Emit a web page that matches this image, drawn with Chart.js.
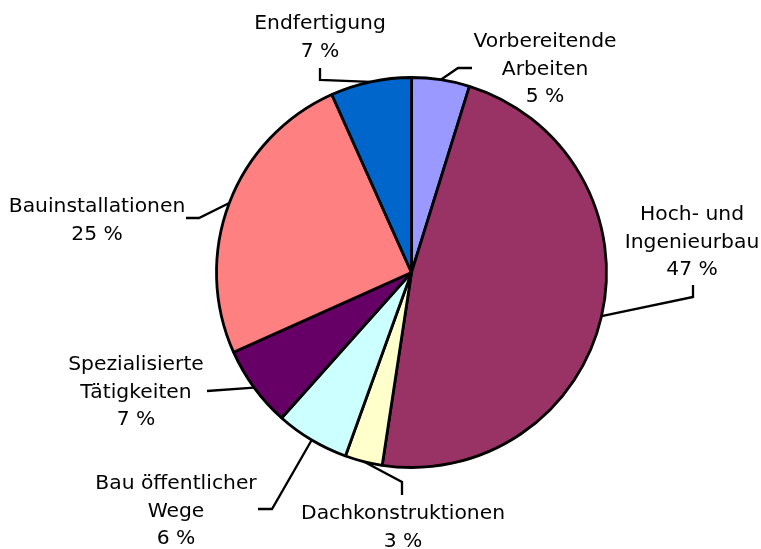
<!DOCTYPE html>
<html>
<head>
<meta charset="utf-8">
<script src="https://cdn.jsdelivr.net/npm/chart.js"></script>
<style>
  html, body { margin: 0; padding: 0; background: #fff; }
  #wrap { width: 761px; height: 549px; }
</style>
</head>
<body>
<div id="wrap"><canvas id="pieChart" width="761" height="549"></canvas></div>
<script>
// Anteile der Bereiche (Prozent), im Uhrzeigersinn ab 12 Uhr
const categories = [
    ['Vorbereitende', 'Arbeiten'],
    ['Hoch- und', 'Ingenieurbau'],
    ['Dachkonstruktionen'],
    ['Bau öffentlicher', 'Wege'],
    ['Spezialisierte', 'Tätigkeiten'],
    ['Bauinstallationen'],
    ['Endfertigung']
];
const shares = [4.8, 47.6, 3.1, 6.1, 6.7, 25.0, 6.7];
const percentLabels = ['5 %', '47 %', '3 %', '6 %', '7 %', '25 %', '7 %'];
const sliceColors = ['#9999FF', '#993366', '#FFFFCC', '#CCFFFF', '#660066', '#FF8080', '#0066CC'];

// label placement: text centre + elbow points of the leader line
const labelLayout = [
    { x: 545, y: 42, elbow: [[458, 68], [472, 68]] },
    { x: 692, y: 215, elbow: [[693, 297], [693, 285]] },
    { x: 403, y: 514, elbow: [[402, 482], [402, 495]] },
    { x: 176, y: 484, elbow: [[272, 509], [258, 509]] },
    { x: 136, y: 365, elbow: [[207, 391]] },
    { x: 97, y: 207, elbow: [[199, 218], [186, 218]] },
    { x: 320, y: 24, elbow: [[320, 80], [320, 68]] }
];
const lineHeight = 27.5;

const leaderLabels = {
    id: 'leaderLabels',
    afterDatasetsDraw(chart) {
        const ctx = chart.ctx;
        const arcs = chart.getDatasetMeta(0).data;
        ctx.save();
        ctx.strokeStyle = '#000';
        ctx.lineWidth = 2.3;
        ctx.fillStyle = '#000';
        ctx.font = '20.3px "DejaVu Sans"';
        ctx.textAlign = 'center';
        ctx.textBaseline = 'middle';
        arcs.forEach((arc, i) => {
            const p = arc.getProps(['x', 'y', 'startAngle', 'endAngle', 'outerRadius'], true);
            const mid = (p.startAngle + p.endAngle) / 2;
            const lay = labelLayout[i];
            ctx.beginPath();
            ctx.moveTo(p.x + Math.cos(mid) * p.outerRadius, p.y + Math.sin(mid) * p.outerRadius);
            lay.elbow.forEach(pt => ctx.lineTo(pt[0], pt[1]));
            ctx.stroke();
            const lines = categories[i].concat([percentLabels[i]]);
            lines.forEach((t, k) => ctx.fillText(t, lay.x, lay.y + k * lineHeight));
        });
        ctx.restore();
    }
};

new Chart(document.getElementById('pieChart').getContext('2d'), {
    type: 'pie',
    data: {
        labels: categories.map(c => c.join(' ')),
        datasets: [{
            data: shares,
            backgroundColor: sliceColors,
            borderColor: '#000',
            borderWidth: 2.8
        }]
    },
    options: {
        responsive: false,
        animation: false,
        radius: 195,
        layout: { padding: { left: 212, right: 150, top: 70, bottom: 74 } },
        plugins: {
            legend: { display: false },
            tooltip: { enabled: false }
        }
    },
    plugins: [leaderLabels]
});
</script>
</body>
</html>
